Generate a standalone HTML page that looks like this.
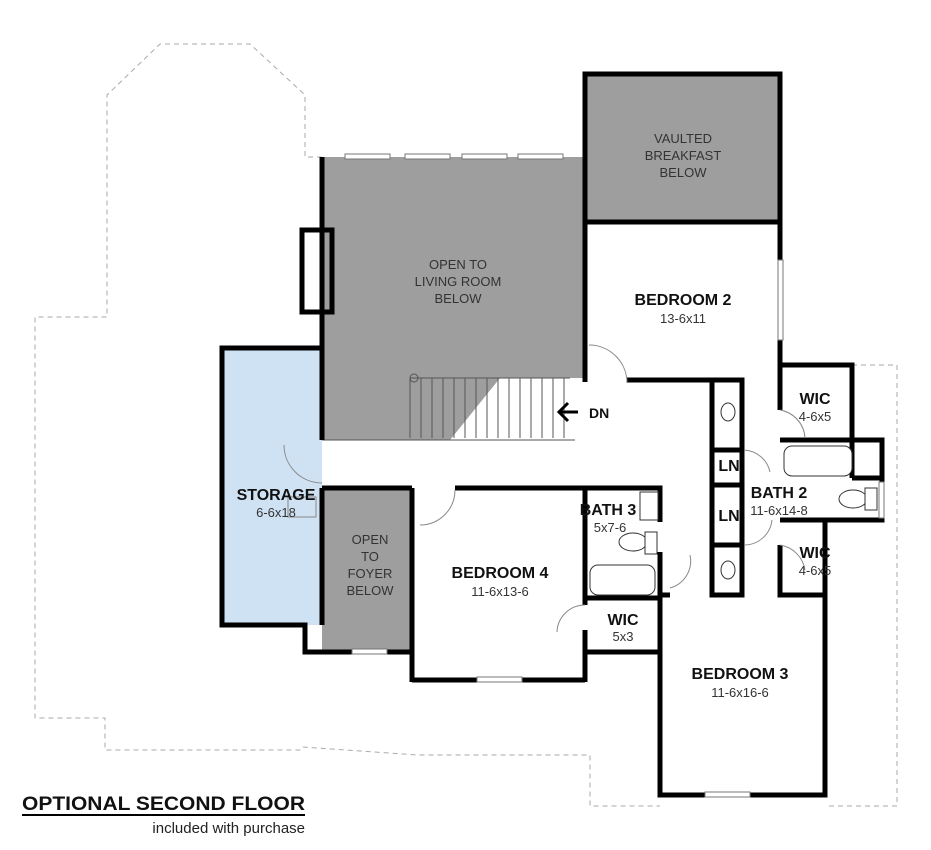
<!DOCTYPE html>
<html><head><meta charset="utf-8"><style>
body{margin:0;background:#fff}
svg{display:block}
text{font-family:"Liberation Sans",sans-serif;fill:#111}
.b{font-weight:bold;font-size:16px}
.s{font-size:13px;fill:#333}
.g{font-size:13px;fill:#333}
</style></head><body>
<svg width="931" height="850" viewBox="0 0 931 850" xmlns="http://www.w3.org/2000/svg">
<polyline fill="none" stroke="#aaa" stroke-width="1" stroke-dasharray="5,4"
 points="322,157 305,157 305,95 250,44 160,44 107,95 107,317 35,317 35,718 105,718 105,750 300,750 302,747 417,755 590,755 590,806 660,806"/>
<polyline fill="none" stroke="#aaa" stroke-width="1" stroke-dasharray="5,4" points="852,365 897,365 897,806 825,806"/>
<rect x="585" y="74" width="195" height="148" fill="#9e9e9e"/>
<polygon points="322,157 585,157 585,378 500,378 450,440 322,440" fill="#9e9e9e"/>
<rect x="222" y="348" width="100" height="277" fill="#cfe2f3"/>
<rect x="322" y="488" width="90" height="164" fill="#9e9e9e"/>
<g stroke="#555" stroke-width="1">
<line x1="410" y1="378" x2="570" y2="378"/><line x1="322" y1="440" x2="575" y2="440"/>
<line x1="410" y1="378" x2="410" y2="438"/><line x1="421" y1="378" x2="421" y2="438"/><line x1="432" y1="378" x2="432" y2="438"/><line x1="443" y1="378" x2="443" y2="438"/><line x1="454" y1="378" x2="454" y2="438"/><line x1="465" y1="378" x2="465" y2="438"/><line x1="476" y1="378" x2="476" y2="438"/><line x1="487" y1="378" x2="487" y2="438"/><line x1="498" y1="378" x2="498" y2="438"/><line x1="509" y1="378" x2="509" y2="438"/><line x1="520" y1="378" x2="520" y2="438"/><line x1="531" y1="378" x2="531" y2="438"/><line x1="542" y1="378" x2="542" y2="438"/><line x1="553" y1="378" x2="553" y2="438"/><line x1="564" y1="378" x2="564" y2="438"/>
</g>
<circle cx="414" cy="378" r="4" fill="none" stroke="#555"/>
<g fill="none" stroke="#000" stroke-width="5">
<rect x="585" y="74" width="195" height="148"/>
<line x1="322" y1="157" x2="322" y2="440"/>
<rect x="302" y="230" width="30" height="82"/>
<line x1="585" y1="222" x2="585" y2="382"/>
<line x1="585" y1="222" x2="780" y2="222"/>
<line x1="780" y1="222" x2="780" y2="380"/>
<line x1="627" y1="380" x2="742" y2="380"/>
<polyline points="322,348 222,348 222,625 305,625 305,652 412,652"/>
<line x1="322" y1="488" x2="322" y2="625"/>
<line x1="412" y1="488" x2="412" y2="682"/>
<line x1="322" y1="488" x2="412" y2="488"/>
<polyline points="455,488 660,488 660,522"/>
<line x1="412" y1="680" x2="585" y2="680"/>
<line x1="585" y1="488" x2="585" y2="605"/>
<line x1="585" y1="630" x2="585" y2="682"/>
<line x1="585" y1="598" x2="660" y2="598"/>
<polyline points="585,652 660,652 660,795 825,795 825,595"/>
<line x1="660" y1="552" x2="660" y2="652"/>
<line x1="670" y1="595" x2="660" y2="595"/>
<rect x="712" y="380" width="30" height="215"/>
<line x1="712" y1="450" x2="742" y2="450"/>
<line x1="712" y1="485" x2="742" y2="485"/>
<line x1="712" y1="545" x2="742" y2="545"/>
<polyline points="780,410 780,365 852,365 852,440"/>
<polyline points="780,440 882,440 882,520 780,520"/>
<line x1="852" y1="440" x2="852" y2="478"/>
<line x1="852" y1="478" x2="882" y2="478"/>
<polyline points="780,545 780,595 825,595 825,520"/>
</g>
<g fill="#fff" stroke="#777" stroke-width="1">
<rect x="345" y="154" width="45" height="5"/><rect x="405" y="154" width="45" height="5"/><rect x="462" y="154" width="45" height="5"/><rect x="518" y="154" width="45" height="5"/>
<rect x="778" y="260" width="5" height="80"/>
<rect x="352" y="649" width="35" height="5"/><rect x="477" y="677" width="45" height="5"/><rect x="705" y="792" width="45" height="5"/>
<rect x="879" y="482" width="5" height="36"/>
</g>
<g fill="#fff" stroke="#333" stroke-width="1">
<rect x="784" y="446" width="68" height="30" rx="8"/>
<rect x="590" y="565" width="65" height="30" rx="8"/>
<ellipse cx="853" cy="499" rx="14" ry="9"/><rect x="865" y="488" width="12" height="22"/>
<ellipse cx="633" cy="542" rx="14" ry="9"/><rect x="645" y="532" width="12" height="22"/>
<ellipse cx="728" cy="412" rx="7" ry="9"/><ellipse cx="728" cy="570" rx="7" ry="9"/><ellipse cx="648" cy="504" rx="7" ry="9"/>
<rect x="640" y="492" width="18" height="28"/>
</g>
<g fill="none" stroke="#888" stroke-width="1">
<path d="M589,345 A38,38 0 0 1 627,383"/>
<path d="M284,445 A38,38 0 0 0 322,483"/>
<path d="M420,525 A35,35 0 0 0 455,490"/>
<path d="M557,632 A28,28 0 0 1 585,605"/>
<path d="M744,450 A28,28 0 0 1 770,472"/>
<path d="M745,545 A28,28 0 0 0 772,520"/>
<path d="M670,588 A28,28 0 0 0 690,555"/>
<path d="M780,410 A30,30 0 0 1 805,438"/>
<path d="M780,545 A30,30 0 0 1 805,570"/>
<rect x="288" y="497" width="28" height="20"/>
</g>
<path d="M560,412 L578,412 M568,403 L559,412 L568,421" fill="none" stroke="#000" stroke-width="3"/>
<text x="589" y="418" class="b" style="font-size:14px">DN</text>
<g text-anchor="middle">
<text x="683" y="143" class="g">VAULTED</text><text x="683" y="160" class="g">BREAKFAST</text><text x="683" y="177" class="g">BELOW</text>
<text x="458" y="269" class="g">OPEN TO</text><text x="458" y="286" class="g">LIVING ROOM</text><text x="458" y="303" class="g">BELOW</text>
<text x="683" y="305" class="b">BEDROOM 2</text><text x="683" y="323" class="s">13-6x11</text>
<text x="815" y="404" class="b">WIC</text><text x="815" y="421" class="s">4-6x5</text>
<text x="729" y="471" class="b">LN</text><text x="729" y="521" class="b">LN</text>
<text x="779" y="498" class="b">BATH 2</text><text x="779" y="515" class="s">11-6x14-8</text>
<text x="815" y="558" class="b">WIC</text><text x="815" y="575" class="s">4-6x5</text>
<text x="276" y="500" class="b">STORAGE</text><text x="276" y="517" class="s">6-6x18</text>
<text x="370" y="544" class="g">OPEN</text><text x="370" y="561" class="g">TO</text><text x="370" y="578" class="g">FOYER</text><text x="370" y="595" class="g">BELOW</text>
<text x="500" y="578" class="b">BEDROOM 4</text><text x="500" y="596" class="s">11-6x13-6</text>
<text x="608" y="515" class="b">BATH 3</text><text x="610" y="532" class="s">5x7-6</text>
<text x="623" y="625" class="b">WIC</text><text x="623" y="641" class="s">5x3</text>
<text x="740" y="679" class="b">BEDROOM 3</text><text x="740" y="697" class="s">11-6x16-6</text>
</g>
<text x="22" y="810" textLength="283" lengthAdjust="spacingAndGlyphs" style="font-weight:bold;font-size:19px">OPTIONAL SECOND FLOOR</text>
<line x1="22" y1="815" x2="305" y2="815" stroke="#000" stroke-width="2"/>
<text x="305" y="833" text-anchor="end" style="font-size:15px;fill:#222">included with purchase</text>
</svg>
</body></html>
